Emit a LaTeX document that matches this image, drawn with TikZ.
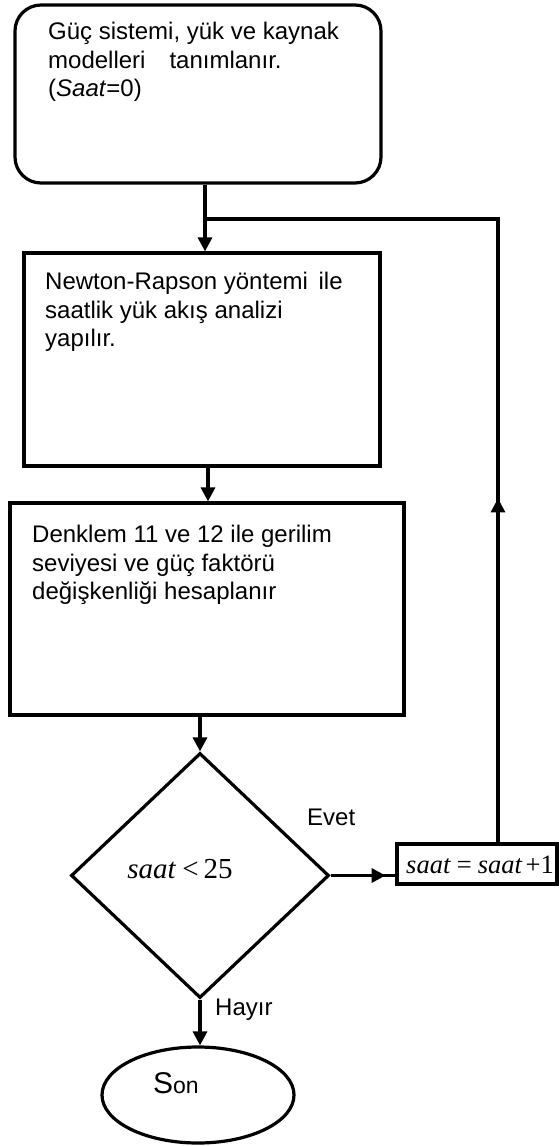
\documentclass[tikz,border=0pt]{standalone}
\usepackage{fontspec}
\setmainfont{Liberation Sans}
\newfontfamily\tms{Liberation Serif}
\usetikzlibrary{arrows.meta,shapes.geometric,calc}
\begin{document}
\begin{tikzpicture}[x=1pt,y=-1pt,
  lw/.style={line width=3.2pt},
  arr/.style={lw,-{Triangle[length=14pt,width=14pt]}},
  boxstyle/.style={draw,lw,inner sep=0pt},
  txt/.style={inner sep=0pt,align=left,anchor=north west,font=\fontsize{24}{28.5}\selectfont},
  lbl/.style={inner sep=0pt,font=\fontsize{24}{28.5}\selectfont},
]
\useasboundingbox (0,0) rectangle (559,1146);
% boxes
\node[boxstyle,rounded corners=26pt,minimum width=366pt,minimum height=178pt] (b1) at (198,94) {};
\node[boxstyle,minimum width=356pt,minimum height=213pt] (b2) at (202,359.5) {};
\node[boxstyle,minimum width=394pt,minimum height=212pt] (b3) at (207,609) {};
\node[boxstyle,diamond,minimum width=258pt,minimum height=245pt] (d) at (200,875.5) {};
\node[boxstyle,minimum width=160pt,minimum height=40pt] (inc) at (477,864) {};
\node[boxstyle,ellipse,minimum width=192pt,minimum height=96pt] (son) at (198,1095) {};
% texts
\node[txt] (t1) at (48,22) {Güç sistemi, yük ve kaynak\\modelleri\hspace{1em}tanımlanır.\\(\textit{Saat}=0)};
\node[txt] (t2) at (45,272) {Newton-Rapson yöntemi\hspace{4pt} ile\\saatlik yük akış analizi\\yapılır.};
\node[txt] (t3) at (32,525) {Denklem 11 ve 12 ile gerilim\\seviyesi ve güç faktörü\\değişkenliği hesaplanır};
\node[inner sep=0pt,font=\fontsize{29}{32}\selectfont] (dt) at (180,869) {{\tms\itshape saat\/}\hspace{6pt}{\tms <}\hspace{5pt}{\tms 25}};
\node[inner sep=0pt,font=\fontsize{26.5}{30}\selectfont] (it) at (480,865) {{\tms\itshape saat\/}\hspace{6pt}{\tms =}\hspace{6pt}{\tms\itshape saat\/}\hspace{3pt}{\tms +1}};
\node[lbl,anchor=west] (evet) at (307,817) {Evet};
\node[lbl,anchor=west] (hayir) at (215,1010) {Hayır};
\node[inner sep=0pt,anchor=base west] (st) at (153,1093) {{\fontsize{30}{30}\selectfont S}{\fontsize{23}{23}\selectfont on}};
% connectors
\coordinate (j) at (205,219);
\coordinate (jr) at (498,219);
\draw[lw] (b1.south -| j) -- (j);
\draw[arr] (j) -- (j |- b2.north);
\draw[lw] (inc.north -| jr) -- (jr) -- (j);
\draw[arr] (inc.north -| jr) -- ++(0,-344);
\draw[arr] ($(b2.south)+(6,0)$) -- ($(b3.north)+(1,0)$);
\draw[arr] (b3.south -| d.north) -- (d.north);
\draw[lw] (d.east) -- (d.east -| inc.west);
\draw[arr] (d.east) -- ++(55,0);
\draw[arr] (d.south) -- (d.south |- son.north);
\end{tikzpicture}
\end{document}
